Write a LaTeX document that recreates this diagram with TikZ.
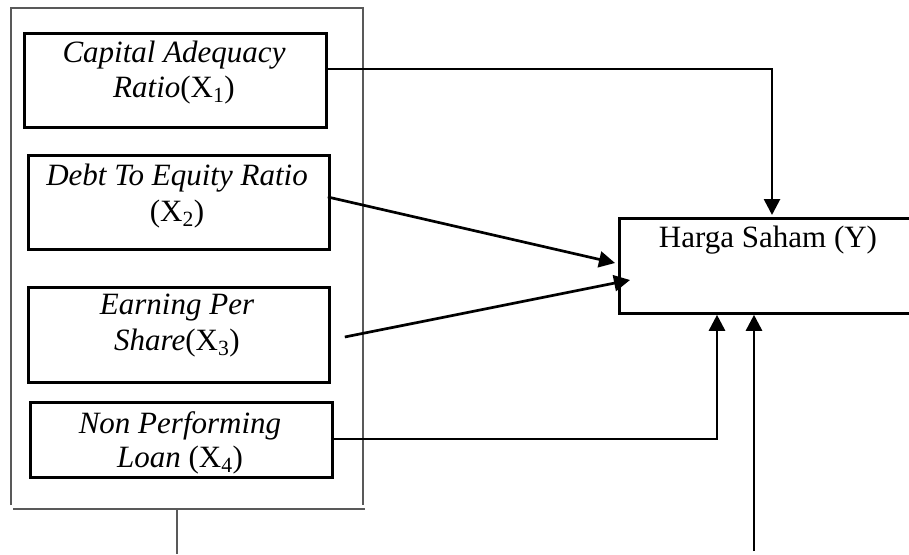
\documentclass[tikz,border=0pt]{standalone}
\usepackage{fontspec}
\setmainfont{Liberation Serif}
\usetikzlibrary{arrows.meta,calc}
\begin{document}
\begin{tikzpicture}[x=1pt,y=-1pt,
  box/.style={draw=black,line width=2.8pt,rectangle,inner sep=0pt,anchor=north west},
  frameline/.style={draw=black!65,line width=1.7pt},
  lbl/.style={anchor=base,inner sep=0pt,font=\fontsize{31}{37}\selectfont},
  arr/.style={line width=2.7pt,-{Triangle[length=16pt,width=16pt]}}]
\useasboundingbox (0,0) rectangle (909,554);
\clip (0,0) rectangle (909,554);

% outer grouping frame of the independent variables
\draw[frameline] (11,505) -- (11,8) -- (363,8) -- (363,505);
\draw[frameline] (13,509) -- (365,509);
\draw[frameline] (177,509) -- (177,554);

% independent variables
\node[box,minimum width=302pt,minimum height=94pt] (b1) at (23,32) {};
\node[box,minimum width=301pt,minimum height=94pt] (b2) at (27,154) {};
\node[box,minimum width=301pt,minimum height=95pt] (b3) at (27,286) {};
\node[box,minimum width=302pt,minimum height=75pt] (b4) at (29,401) {};

% dependent variable (runs off the right edge)
\node[box,minimum width=360pt,minimum height=95pt] (y) at (618,217) {};

% labels
\node[lbl] (t1a) at (174,62) {\itshape Capital Adequacy};
\node[lbl] (t1b) at (174,97) {\textit{Ratio}(X\textsubscript{1})};
\node[lbl] (t2a) at (177,185) {\itshape Debt To Equity Ratio};
\node[lbl] (t2b) at (177,221) {(X\textsubscript{2})};
\node[lbl] (t3a) at (177,314) {\itshape Earning Per};
\node[lbl] (t3b) at (177,350) {\textit{Share}(X\textsubscript{3})};
\node[lbl] (t4a) at (180,433) {\itshape Non Performing};
\node[lbl] (t4b) at (180,467) {\textit{Loan} (X\textsubscript{4})};
\node[lbl] (ylab) at (768,247) {Harga Saham (Y)};

% influence paths
\draw[arr] ($(b1.north east)+(-2,37)$) -| ($(y.north west)+(154,-2)$);
\draw[arr] ($(b2.north east)+(-3,43)$) -- ($(y.north west)+(-3,46)$);
\draw[arr] ($(b3.north east)+(14,51)$) -- ($(y.north west)+(12,63)$);
\draw[arr] ($(b4.north east)+(-3,38)$) -| ($(y.south west)+(99,0)$);
\coordinate (err) at (754,551);
\draw[arr] (err) -- ($(y.south west)+(136,0)$);
\end{tikzpicture}
\end{document}
